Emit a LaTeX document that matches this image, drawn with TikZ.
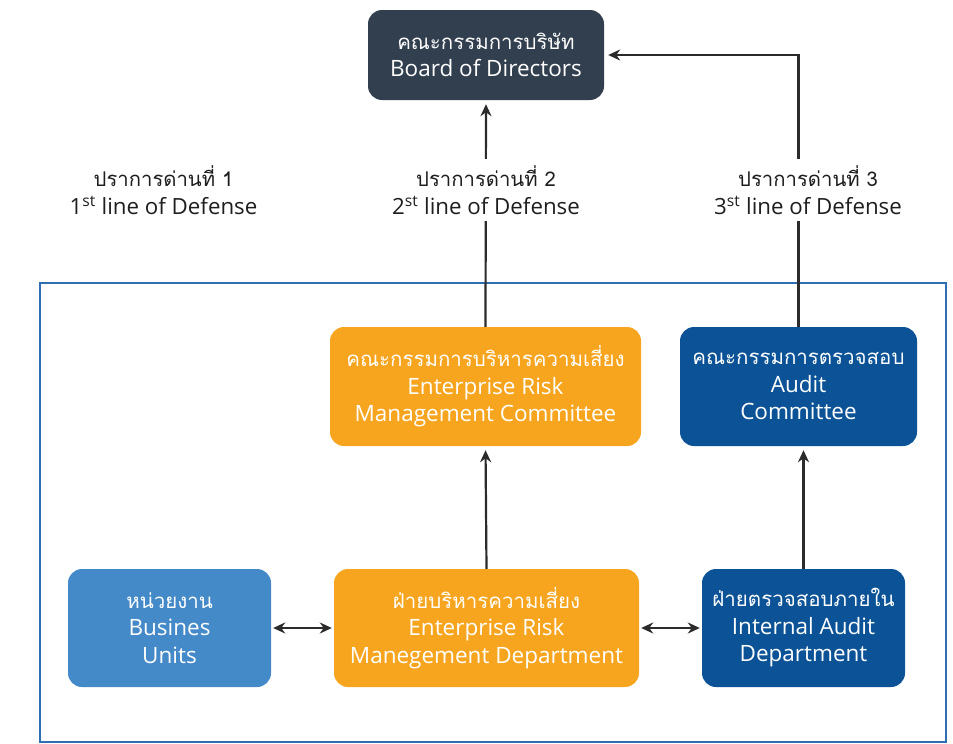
\documentclass[tikz,border=0pt]{standalone}
\usepackage{fontspec}
\setmainfont{Open Sans}
\newfontfamily\thaifont[Script=Thai,Scale=0.91]{Loma}
\usetikzlibrary{arrows.meta}
\definecolor{boardc}{HTML}{323F4F}
\definecolor{orangec}{HTML}{F7A51E}
\definecolor{navyc}{HTML}{0B5396}
\definecolor{skyc}{HTML}{4489C8}
\definecolor{framec}{HTML}{2F6DB5}
\definecolor{linec}{HTML}{2B2B2B}
\definecolor{captc}{HTML}{1E1E1E}
\begin{document}
\begin{tikzpicture}[x=1pt,y=-1pt,
  box/.style={rounded corners=14pt, text=white, align=center,
    font=\fontsize{22.5}{27.5}\selectfont, inner sep=0pt},
  caption/.style={align=center, fill=white, text=captc, inner xsep=4pt, inner ysep=6pt,
    font=\fontsize{22.3}{28}\selectfont},
  link/.style={draw=linec, line width=2.2pt, -{Stealth[length=12pt,width=11pt]}, shorten >=4pt},
  twoway/.style={draw=linec, line width=2.2pt, {Stealth[length=12pt,width=11pt]}-{Stealth[length=12pt,width=11pt]}, shorten >=2pt, shorten <=2pt}]
\useasboundingbox (0,0) rectangle (953,744);

% outer frame around the management units
\draw[framec, line width=1.6pt] (40,283) rectangle (946,742);

% boxes
\node[box, fill=boardc, minimum width=236pt, minimum height=90pt] (board) at (486,55)
  {{\thaifont คณะกรรมการบริษัท}\\Board of Directors};
\node[box, fill=orangec, minimum width=311pt, minimum height=119pt] (ermc) at (485.5,386.5)
  {{\thaifont คณะกรรมการบริหารความเสี่ยง}\\Enterprise Risk\\Management Committee};
\node[box, fill=navyc, minimum width=237pt, minimum height=119pt] (audit) at (798.5,386.5)
  {{\thaifont คณะกรรมการตรวจสอบ}\\Audit\\Committee};
\node[box, fill=skyc, minimum width=203pt, minimum height=118pt] (bu) at (169.5,628)
  {{\thaifont หน่วยงาน}\\Busines\\Units};
\node[box, fill=orangec, minimum width=305pt, minimum height=118pt] (ermd) at (486.5,628)
  {{\thaifont ฝ่ายบริหารความเสี่ยง}\\Enterprise Risk\\Manegement Department};
\node[box, fill=navyc, minimum width=203pt, minimum height=118pt] (iad) at (803.5,628)
  {{\thaifont ฝ่ายตรวจสอบภายใน}\\Internal Audit\\Department};

% reporting lines
\draw[link] (ermc.north) -- (board.south);
\draw[link] (audit.north) -- (audit.north |- board.east) -- (board.east);
\draw[link] (ermd.north) -- (ermc.south);
\draw[link] (iad.north) -- (iad.north |- audit.south);
\draw[twoway] (bu.east) -- (ermd.west);
\draw[twoway] (ermd.east) -- (iad.west);

% lines of defense
\node[caption] (cap1) at (163.5,190)
  {{\thaifont ปราการด่านที่ 1}\\1\textsuperscript{st} line of Defense};
\node[caption] (cap2) at (486,190)
  {{\thaifont ปราการด่านที่ 2}\\2\textsuperscript{st} line of Defense};
\node[caption] (cap3) at (808,190)
  {{\thaifont ปราการด่านที่ 3}\\3\textsuperscript{st} line of Defense};
\end{tikzpicture}
\end{document}
